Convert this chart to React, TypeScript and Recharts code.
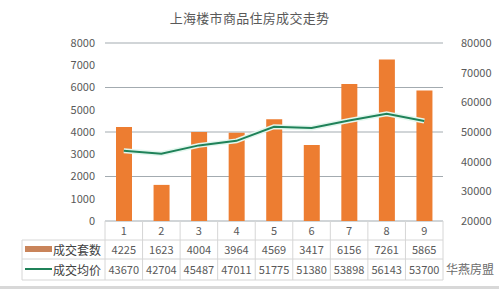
import { ComposedChart, Bar, Line, XAxis, YAxis, CartesianGrid } from "recharts";

const categories = ["1", "2", "3", "4", "5", "6", "7", "8", "9"];
const dealCounts = [4225, 1623, 4004, 3964, 4569, 3417, 6156, 7261, 5865];
const avgPrices = [43670, 42704, 45487, 47011, 51775, 51380, 53898, 56143, 53700];
const leftTicks = [0, 1000, 2000, 3000, 4000, 5000, 6000, 7000, 8000];
const rightTicks = [20000, 30000, 40000, 50000, 60000, 70000, 80000];
const seriesNames = ["成交套数", "成交均价"];

const W = 499;
const H = 289;
const LEFT_W = 105;
const RIGHT_W = 56;
const PLOT_BOTTOM = 221;
const BAND = (W - LEFT_W - RIGHT_W) / categories.length;
const ROW_CAT = 230;
const ROW_BAR = 249;
const ROW_LINE = 269;
const LINE_A = 240;
const LINE_B = 259;
const LINE_C = 280;
const TABLE_LEFT = 22;

const BAR_COLOR = "#ED7D31";
const LINE_COLOR = "#1f8259";
const GRID = "#a3abb0";
const TABLE_LINE = "#d6d6d6";
const TEXT = "#595959";
const FONT = "'Noto Sans CJK SC', 'Noto Sans', sans-serif";

const data = categories.map((c, i) => ({
  name: c,
  deals: dealCounts[i],
  price: avgPrices[i],
}));

function TableTick(props: any) {
  const { x, payload, index } = props;
  const i = index;
  const left = x - BAND / 2;
  const right = x + BAND / 2;
  const tableRight = LEFT_W + BAND * categories.length;
  return (
    <g fontFamily={FONT} fontSize={11} fill={TEXT}>
      {i === 0 && (
        <g>
          <line x1={TABLE_LEFT} x2={tableRight} y1={LINE_A} y2={LINE_A} stroke={TABLE_LINE} />
          <line x1={TABLE_LEFT} x2={tableRight} y1={LINE_B} y2={LINE_B} stroke={TABLE_LINE} />
          <line x1={TABLE_LEFT} x2={tableRight} y1={LINE_C} y2={LINE_C} stroke={TABLE_LINE} />
          <line x1={TABLE_LEFT} x2={TABLE_LEFT} y1={LINE_A} y2={LINE_C} stroke={TABLE_LINE} />
          <rect x={25} y={ROW_BAR - 3} width={27} height={6} fill="#c9845a" />
          <line x1={25} x2={52} y1={ROW_LINE} y2={ROW_LINE} stroke={LINE_COLOR} strokeWidth={2} />
          <text x={53} y={ROW_BAR} dominantBaseline="central" fontSize={12} fill="#404040">
            {seriesNames[0]}
          </text>
          <text x={53} y={ROW_LINE} dominantBaseline="central" fontSize={12} fill="#404040">
            {seriesNames[1]}
          </text>
        </g>
      )}
      <line x1={left} x2={left} y1={PLOT_BOTTOM} y2={LINE_C} stroke={TABLE_LINE} />
      {i === categories.length - 1 && (
        <line x1={right} x2={right} y1={PLOT_BOTTOM} y2={LINE_C} stroke={TABLE_LINE} />
      )}
      <text x={x} y={ROW_CAT} textAnchor="middle" dominantBaseline="central">
        {payload.value}
      </text>
      <text x={x} y={ROW_BAR} textAnchor="middle" dominantBaseline="central">
        {dealCounts[i]}
      </text>
      <text x={x} y={ROW_LINE} textAnchor="middle" dominantBaseline="central">
        {avgPrices[i]}
      </text>
    </g>
  );
}

export default function App() {
  return (
    <div
      style={{
        position: "absolute",
        left: 0,
        top: 0,
        width: W,
        height: H,
        background: "#fff",
        fontFamily: FONT,
      }}
    >
      <div
        style={{
          position: "absolute",
          top: 8,
          left: 0,
          width: W,
          textAlign: "center",
          fontSize: 13,
          color: TEXT,
          letterSpacing: 0.3,
        }}
      >
        上海楼市商品住房成交走势
      </div>
      <ComposedChart
        width={W}
        height={H}
        data={data}
        margin={{ top: 43, right: 0, left: 0, bottom: 8 }}
        barSize={16}
      >
        <CartesianGrid yAxisId="left" vertical={false} stroke={GRID} />
        <XAxis
          dataKey="name"
          height={60}
          axisLine={false}
          tickLine={false}
          interval={0}
          tick={<TableTick />}
        />
        <YAxis
          yAxisId="left"
          width={LEFT_W}
          domain={[0, 8000]}
          ticks={leftTicks}
          axisLine={false}
          tickLine={false}
          tickMargin={4}
          tick={{ fill: TEXT, fontSize: 11, fontFamily: FONT }}
        />
        <YAxis
          yAxisId="right"
          orientation="right"
          width={RIGHT_W}
          domain={[20000, 80000]}
          ticks={rightTicks}
          axisLine={false}
          tickLine={false}
          tickMargin={12}
          tick={{ fill: TEXT, fontSize: 11, fontFamily: FONT }}
        />
        <Bar yAxisId="left" dataKey="deals" fill={BAR_COLOR} isAnimationActive={false} />
        <Line
          yAxisId="right"
          dataKey="price"
          stroke="#e3f7ee"
          strokeWidth={5}
          dot={false}
          activeDot={false}
          legendType="none"
          isAnimationActive={false}
        />
        <Line
          yAxisId="right"
          dataKey="price"
          stroke={LINE_COLOR}
          strokeWidth={2}
          dot={false}
          activeDot={false}
          isAnimationActive={false}
        />
      </ComposedChart>
      <div
        style={{
          position: "absolute",
          left: 446,
          top: 260,
          fontSize: 12,
          color: "#6b6b6b",
          whiteSpace: "nowrap",
        }}
      >
        华燕房盟
      </div>
      <div
        style={{
          position: "absolute",
          left: 0,
          top: H - 3,
          width: W,
          height: 3,
          background: "#d8d8d8",
        }}
      />
    </div>
  );
}
